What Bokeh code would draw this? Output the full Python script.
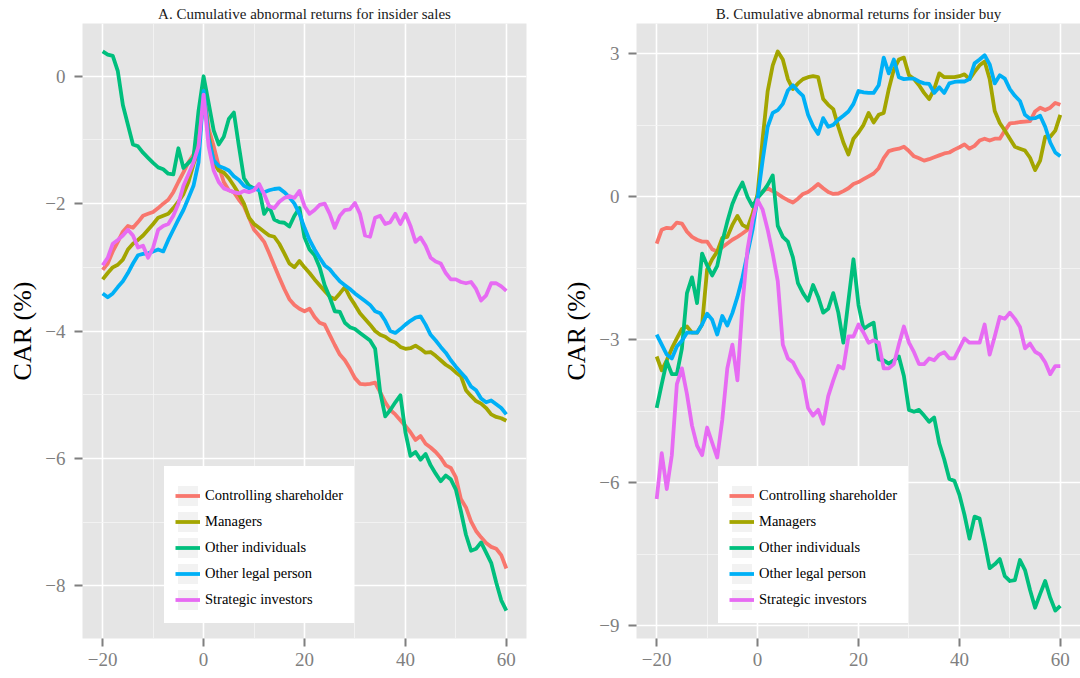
from bokeh.plotting import figure
from bokeh.layouts import row
from bokeh.models import FixedTicker, Range1d, Legend, LegendItem
from bokeh.embed import file_html
from bokeh.resources import INLINE

# event window (days relative to the insider trade)
days = list(range(-20, 61))

groups = ["Controlling shareholder", "Managers", "Other individuals",
          "Other legal person", "Strategic investors"]
colors = ["#F8766D", "#A3A500", "#00BF7D", "#00B0F6", "#E76BF3"]

# Panel A: cumulative abnormal returns (%) around insider sales
sales_controlling = [
    -3.04, -2.94, -2.75, -2.60, -2.44, -2.35, -2.38, -2.29, -2.19, -2.16,
    -2.13, -2.07, -2.00, -1.94, -1.82, -1.66, -1.51, -1.35, -1.23, -0.98,
    -0.20, -0.82, -1.10, -1.41, -1.66, -1.79, -1.82, -1.94, -2.04, -2.22,
    -2.41, -2.50, -2.60, -2.78, -2.97, -3.16, -3.34, -3.50, -3.59, -3.65,
    -3.69, -3.65, -3.78, -3.87, -3.90, -4.06, -4.22, -4.37, -4.46, -4.59,
    -4.74, -4.83, -4.84, -4.83, -4.81, -4.96, -5.12, -5.24, -5.31, -5.40,
    -5.49, -5.59, -5.71, -5.65, -5.77, -5.83, -5.90, -5.99, -6.11, -6.15,
    -6.30, -6.64, -6.77, -6.99, -7.14, -7.24, -7.33, -7.39, -7.42, -7.52, -7.73]
sales_managers = [
    -3.19, -3.09, -3.00, -2.96, -2.88, -2.72, -2.63, -2.57, -2.50, -2.41,
    -2.32, -2.22, -2.19, -2.16, -2.07, -1.97, -1.85, -1.66, -1.38, -1.16,
    -0.26, -0.92, -1.35, -1.48, -1.51, -1.60, -1.72, -1.85, -2.00, -2.22,
    -2.32, -2.38, -2.44, -2.50, -2.52, -2.63, -2.78, -2.94, -3.00, -2.90,
    -3.00, -3.09, -3.19, -3.28, -3.37, -3.46, -3.50, -3.41, -3.31, -3.47,
    -3.59, -3.72, -3.81, -3.90, -4.00, -4.06, -4.09, -4.15, -4.18, -4.25,
    -4.28, -4.27, -4.23, -4.28, -4.34, -4.33, -4.39, -4.46, -4.53, -4.58,
    -4.65, -4.71, -4.93, -5.02, -5.10, -5.14, -5.21, -5.31, -5.35, -5.37, -5.41]
sales_individuals = [
    0.39, 0.34, 0.32, 0.08, -0.45, -0.76, -1.07, -1.10, -1.20, -1.28,
    -1.36, -1.43, -1.46, -1.53, -1.54, -1.13, -1.44, -1.36, -1.28, -0.54,
    0.00, -0.42, -0.85, -1.07, -0.95, -0.67, -0.57, -1.10, -1.60, -1.72,
    -1.76, -1.77, -2.16, -2.04, -2.25, -2.29, -2.30, -2.36, -2.19, -2.07,
    -2.53, -2.72, -2.81, -3.00, -3.28, -3.47, -3.69, -3.70, -3.87, -3.94,
    -3.97, -4.03, -4.09, -4.15, -4.28, -4.96, -5.34, -5.24, -5.12, -5.01,
    -5.59, -5.96, -5.90, -6.02, -5.93, -6.11, -6.24, -6.36, -6.27, -6.33,
    -6.49, -6.83, -7.20, -7.45, -7.42, -7.32, -7.48, -7.64, -7.95, -8.23, -8.39]
sales_legal = [
    -3.41, -3.47, -3.41, -3.31, -3.22, -3.09, -2.94, -2.81, -2.79, -2.78,
    -2.75, -2.72, -2.75, -2.57, -2.41, -2.25, -2.10, -1.91, -1.72, -1.35,
    -0.23, -0.98, -1.32, -1.41, -1.44, -1.48, -1.57, -1.63, -1.72, -1.76,
    -1.76, -1.79, -1.82, -1.79, -1.77, -1.76, -1.82, -1.90, -2.00, -2.16,
    -2.38, -2.57, -2.72, -2.85, -2.97, -3.03, -3.13, -3.22, -3.28, -3.34,
    -3.41, -3.47, -3.53, -3.59, -3.69, -3.72, -3.84, -4.00, -4.03, -3.97,
    -3.90, -3.84, -3.79, -3.77, -3.90, -4.06, -4.15, -4.25, -4.34, -4.46,
    -4.56, -4.65, -4.74, -4.87, -4.93, -5.06, -5.12, -5.09, -5.15, -5.21, -5.31]
sales_strategic = [
    -2.97, -2.85, -2.63, -2.57, -2.50, -2.41, -2.50, -2.69, -2.66, -2.85,
    -2.69, -2.41, -2.35, -2.32, -2.19, -2.00, -1.72, -1.54, -1.35, -1.10,
    -0.29, -1.10, -1.48, -1.66, -1.76, -1.79, -1.82, -1.84, -1.80, -1.82,
    -1.79, -1.69, -1.85, -2.04, -2.07, -1.97, -1.91, -1.88, -1.91, -1.80,
    -2.04, -2.16, -2.10, -2.02, -2.00, -2.16, -2.38, -2.19, -2.10, -2.09,
    -1.99, -2.16, -2.50, -2.52, -2.22, -2.19, -2.32, -2.29, -2.16, -2.32,
    -2.16, -2.35, -2.60, -2.53, -2.66, -2.85, -2.91, -2.94, -3.09, -3.19,
    -3.19, -3.23, -3.25, -3.23, -3.34, -3.52, -3.44, -3.25, -3.25, -3.30, -3.37]

# Panel B: cumulative abnormal returns (%) around insider purchases
buy_controlling = [
    -0.98, -0.69, -0.65, -0.66, -0.54, -0.56, -0.73, -0.84, -0.90, -0.94,
    -0.94, -1.10, -1.15, -1.06, -0.98, -0.90, -0.84, -0.77, -0.69, -0.52,
    -0.02, 0.12, 0.18, 0.12, 0.06, -0.01, -0.07, -0.12, -0.04, 0.06,
    0.10, 0.18, 0.27, 0.18, 0.10, 0.06, 0.07, 0.12, 0.18, 0.27,
    0.31, 0.37, 0.43, 0.49, 0.60, 0.81, 0.96, 0.99, 1.01, 1.05,
    0.96, 0.85, 0.81, 0.76, 0.79, 0.83, 0.87, 0.91, 0.93, 0.99,
    1.04, 1.10, 1.01, 1.07, 1.18, 1.22, 1.18, 1.22, 1.22, 1.39,
    1.54, 1.55, 1.57, 1.58, 1.59, 1.79, 1.87, 1.82, 1.87, 1.97, 1.93]
buy_managers = [
    -3.35, -3.64, -3.43, -3.18, -2.97, -2.77, -2.72, -2.85, -2.85, -2.68,
    -1.52, -1.31, -1.15, -0.86, -0.84, -0.59, -0.40, -0.59, -0.65, -0.36,
    0.06, 1.22, 2.22, 2.76, 3.05, 2.88, 2.47, 2.26, 2.38, 2.47,
    2.51, 2.53, 2.51, 2.05, 1.93, 1.84, 1.47, 1.14, 0.89, 1.22,
    1.35, 1.51, 1.76, 1.56, 1.72, 1.76, 2.26, 2.67, 2.88, 2.92,
    2.55, 2.47, 2.34, 2.18, 2.05, 2.26, 2.59, 2.51, 2.51, 2.51,
    2.53, 2.57, 2.47, 2.62, 2.76, 2.84, 2.47, 1.80, 1.55, 1.39,
    1.22, 1.05, 1.01, 0.97, 0.82, 0.56, 0.76, 1.26, 1.26, 1.39, 1.72]
buy_individuals = [
    -4.43, -3.93, -3.45, -3.72, -3.72, -3.18, -2.02, -1.69, -2.23, -1.19,
    -1.44, -1.65, -1.45, -0.94, -0.52, -0.15, 0.10, 0.30, 0.00, -0.20,
    -0.02, 0.10, 0.25, 0.45, -0.61, -0.84, -0.94, -1.27, -1.81, -2.02,
    -2.18, -1.85, -2.10, -2.43, -2.35, -2.02, -2.43, -3.06, -2.18, -1.31,
    -2.27, -2.77, -2.70, -2.64, -3.41, -3.43, -3.50, -3.43, -3.35, -3.76,
    -4.47, -4.51, -4.47, -4.59, -4.72, -4.63, -5.17, -5.51, -5.92, -5.96,
    -6.25, -6.67, -7.17, -6.71, -6.75, -7.25, -7.79, -7.71, -7.60, -7.96,
    -8.06, -8.04, -7.62, -7.83, -8.25, -8.62, -8.33, -8.06, -8.41, -8.68, -8.58]
buy_legal = [
    -2.89, -3.10, -3.31, -3.39, -3.14, -3.02, -2.85, -2.85, -2.85, -2.68,
    -2.45, -2.58, -2.89, -2.50, -2.70, -2.44, -2.10, -1.69, -1.19, -0.69,
    -0.02, 0.76, 1.47, 1.76, 1.82, 1.95, 2.23, 2.34, 2.22, 2.12,
    1.72, 1.48, 1.32, 1.65, 1.47, 1.51, 1.62, 1.70, 1.79, 1.95,
    2.22, 2.19, 2.18, 2.18, 2.34, 2.92, 2.59, 2.88, 2.51, 2.47,
    2.48, 2.48, 2.42, 2.38, 2.37, 2.18, 2.30, 2.18, 2.38, 2.41,
    2.42, 2.42, 2.47, 2.80, 2.88, 2.97, 2.78, 2.38, 2.55, 2.48,
    2.26, 2.12, 2.01, 1.72, 1.64, 1.65, 1.70, 1.47, 1.14, 0.93, 0.85]
buy_strategic = [
    -6.34, -5.38, -6.13, -5.42, -3.93, -3.60, -4.14, -4.80, -5.22, -5.42,
    -4.84, -5.16, -5.47, -4.68, -3.60, -3.10, -3.85, -2.27, -1.10, -0.48,
    -0.07, -0.27, -0.69, -1.19, -1.77, -3.10, -3.39, -3.47, -3.68, -3.85,
    -4.43, -4.59, -4.47, -4.76, -4.18, -3.85, -3.55, -3.60, -2.93, -2.93,
    -2.68, -2.85, -3.06, -3.01, -3.06, -3.60, -3.60, -3.51, -3.10, -2.72,
    -3.06, -3.26, -3.51, -3.51, -3.39, -3.43, -3.31, -3.26, -3.39, -3.39,
    -3.18, -2.97, -3.06, -3.06, -3.06, -2.68, -3.31, -2.93, -2.52, -2.56,
    -2.43, -2.56, -2.73, -3.18, -3.08, -3.25, -3.31, -3.47, -3.72, -3.55, -3.55]

x_ticks = [-20, 0, 20, 40, 60]
x_minor = [-10, 10, 30, 50]
sales_y_ticks = [-8, -6, -4, -2, 0]
sales_y_minor = [-7, -5, -3, -1]
buy_y_ticks = [-9, -6, -3, 0, 3]
buy_y_minor = [-7.5, -4.5, -1.5, 1.5]

SERIF = "Liberation Serif"
PANEL_BG = "#E5E5E5"
KEY_BG = "#F2F2F2"
TICK_GREY = "#7F7F7F"


def tick_text(v):
    return str(v).replace("-", "\u2212")


def style_axis(ax, ticks, minor):
    ax.ticker = FixedTicker(ticks=ticks, minor_ticks=minor)
    ax.major_label_overrides = {t: tick_text(t) for t in ticks}
    ax.axis_line_color = None
    ax.major_tick_in = 0
    ax.major_tick_out = 8
    ax.minor_tick_in = 0
    ax.minor_tick_out = 0
    ax.major_tick_line_color = TICK_GREY
    ax.major_tick_line_width = 2
    ax.major_label_text_font = SERIF
    ax.major_label_text_font_size = "19px"
    ax.major_label_text_color = TICK_GREY


def panel(title, series, y_ticks, y_minor, border_left, border_right):
    lo = min(min(s) for s in series)
    hi = max(max(s) for s in series)
    ypad = 0.05 * (hi - lo)
    xpad = 0.05 * (days[-1] - days[0])
    p = figure(width=540, height=678,
               x_range=Range1d(days[0] - xpad, days[-1] + xpad),
               y_range=Range1d(lo - ypad, hi + ypad),
               output_backend="svg", toolbar_location=None,
               min_border_left=border_left, min_border_right=border_right,
               min_border_top=23, min_border_bottom=40,
               background_fill_color=PANEL_BG, border_fill_color="white",
               outline_line_color=None)

    p.title.text = title
    p.title.align = "center"
    p.title.text_font = SERIF
    p.title.text_font_style = "normal"
    p.title.text_font_size = "15px"
    p.title.text_color = "#1A1A1A"
    p.title.standoff = 3

    style_axis(p.xaxis[0], x_ticks, x_minor)
    style_axis(p.yaxis[0], y_ticks, y_minor)
    p.xaxis.major_label_standoff = 6
    p.yaxis.major_label_standoff = 9
    p.yaxis.axis_label = "CAR (%)"
    p.yaxis.axis_label_text_font = SERIF
    p.yaxis.axis_label_text_font_style = "normal"
    p.yaxis.axis_label_text_font_size = "26px"
    p.yaxis.axis_label_text_color = "black"
    p.yaxis.axis_label_standoff = 5

    for g in (p.xgrid, p.ygrid):
        g.grid_line_color = "white"
        g.grid_line_width = 1.6
        g.minor_grid_line_color = "#F5F5F5"
        g.minor_grid_line_width = 0.8

    items = []
    for name, col, vals in zip(groups, colors, series):
        line = p.line(days, vals, line_color=col, line_width=3.8,
                      line_join="round")
        # grey key square behind each legend swatch
        swatch = p.rect(x=[days[0]], y=[vals[0]], width=1, height=1,
                        fill_color=KEY_BG, line_color=None, visible=False)
        items.append(LegendItem(label=name, renderers=[swatch, line]))

    # a white border keeps the legend padding active; the blank title
    # leaves a little extra room above the first key
    legend = Legend(items=items, location=(82, 15),
                    title=" ", title_text_font_size="4px", title_standoff=1,
                    background_fill_color="white", background_fill_alpha=1,
                    border_line_color="white", border_line_width=1,
                    padding=10, spacing=1, margin=0,
                    glyph_width=25, glyph_height=25, label_height=25,
                    label_standoff=5, label_text_font=SERIF,
                    label_text_font_size="14.5px", label_text_color="black")
    p.add_layout(legend)
    return p


pA = panel("A. Cumulative abnormal returns for insider sales",
           [sales_controlling, sales_managers, sales_individuals,
            sales_legal, sales_strategic],
           sales_y_ticks, sales_y_minor, 82, 14)
pB = panel("B. Cumulative abnormal returns for insider buy",
           [buy_controlling, buy_managers, buy_individuals,
            buy_legal, buy_strategic],
           buy_y_ticks, buy_y_minor, 96, 0)

layout = row(pA, pB)
open("out.html", "w").write(file_html(layout, INLINE))
